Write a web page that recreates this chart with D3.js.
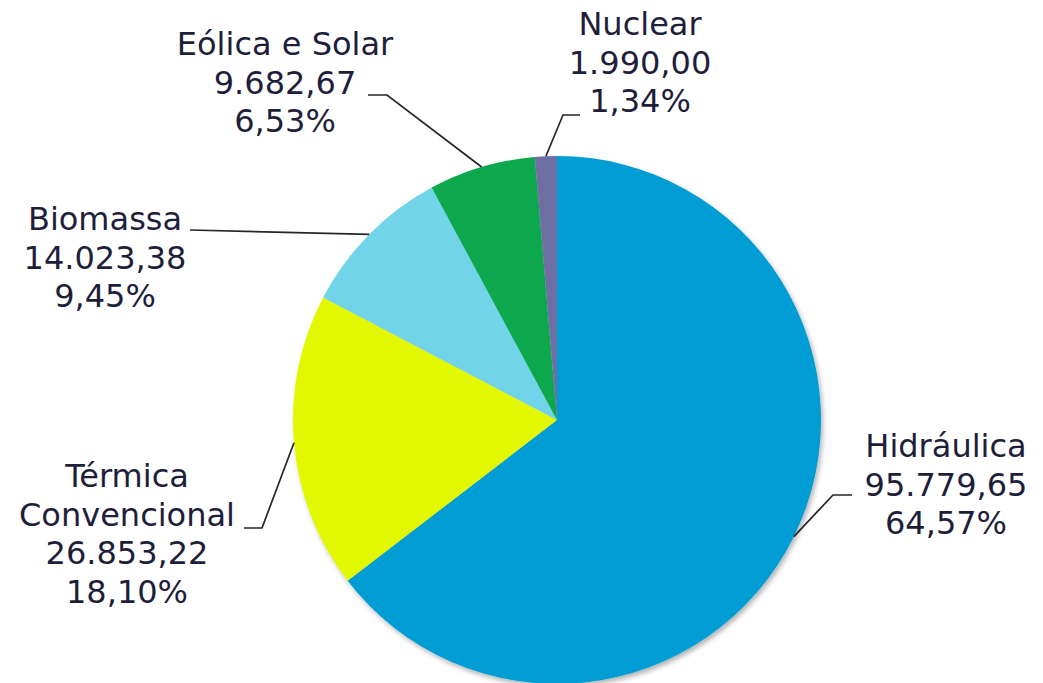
<!DOCTYPE html>
<html>
<head>
<meta charset="utf-8">
<script src="https://cdn.jsdelivr.net/npm/d3@7"></script>
<style>
  body { margin: 0; background: #fff; }
  svg { display: block; }
  text { font-family: "DejaVu Sans", Verdana, sans-serif; font-size: 32px; fill: #1e1e3a; }
</style>
</head>
<body>
<svg></svg>
<script>
// Source data (capacidade instalada, MW)
const categories = ["Hidráulica", "Térmica Convencional", "Biomassa", "Eólica e Solar", "Nuclear"];
const values = [95779.65, 26853.22, 14023.38, 9682.67, 1990.00];
const valueLabels = ["95.779,65", "26.853,22", "14.023,38", "9.682,67", "1.990,00"];
const percentLabels = ["64,57%", "18,10%", "9,45%", "6,53%", "1,34%"];
const nameLines = [["Hidráulica"], ["Térmica", "Convencional"], ["Biomassa"], ["Eólica e Solar"], ["Nuclear"]];
const colors = ["#069dd5", "#e2f803", "#72d4e8", "#07a74d", "#6e6ea4"];

// Label layout: text centre x, first baseline y, leader elbow and end
const labelLayout = [
  { x: 946, y: 457, elbow: [833, 495], end: [852, 495] },
  { x: 127, y: 487, elbow: [262, 528], end: [244, 528] },
  { x: 105, y: 230, elbow: [190, 230], end: [190, 230] },
  { x: 285, y: 55,  elbow: [387, 95],  end: [368, 95] },
  { x: 640, y: 35,  elbow: [563, 115], end: [580, 115] }
];

const width = 1043, height = 683;
const cx = 557, cy = 420, radius = 264;
const lineHeight = 38.5;

const svg = d3.select("svg")
  .attr("width", width)
  .attr("height", height);

const defs = svg.append("defs");
defs.append("filter")
  .attr("id", "shadow")
  .attr("x", "-10%").attr("y", "-10%")
  .attr("width", "120%").attr("height", "120%")
  .append("feDropShadow")
  .attr("dx", 2).attr("dy", 3)
  .attr("stdDeviation", 2.5)
  .attr("flood-color", "#000")
  .attr("flood-opacity", 0.3);

const data = categories.map((c, i) => ({ name: c, value: values[i], i: i }));

const pie = d3.pie()
  .sort(null)
  .value(d => d.value);

const arc = d3.arc()
  .innerRadius(0)
  .outerRadius(radius);

const arcs = pie(data);

const g = svg.append("g")
  .attr("transform", `translate(${cx},${cy})`);

// Slices
g.append("g")
  .attr("filter", "url(#shadow)")
  .selectAll("path")
  .data(arcs)
  .join("path")
  .attr("fill", d => colors[d.data.i])
  .attr("d", arc);

// Leader lines, starting on the rim at the slice mid-angle
const rimPoint = d => {
  const a = (d.startAngle + d.endAngle) / 2;
  return [cx + radius * Math.sin(a), cy - radius * Math.cos(a)];
};

svg.append("g")
  .selectAll("polyline")
  .data(arcs)
  .join("polyline")
  .attr("fill", "none")
  .attr("stroke", "#262626")
  .attr("stroke-width", 1.7)
  .attr("points", d => {
    const L = labelLayout[d.data.i];
    return [rimPoint(d), L.elbow, L.end].map(p => p.join(",")).join(" ");
  });

// Labels
const labels = svg.append("g")
  .selectAll("text")
  .data(arcs)
  .join("text")
  .attr("text-anchor", "middle")
  .attr("x", d => labelLayout[d.data.i].x)
  .attr("y", d => labelLayout[d.data.i].y);

labels.each(function(d) {
  const i = d.data.i;
  const lines = nameLines[i].concat([valueLabels[i], percentLabels[i]]);
  d3.select(this).selectAll("tspan")
    .data(lines)
    .join("tspan")
    .attr("x", labelLayout[i].x)
    .attr("dy", (l, k) => k === 0 ? 0 : lineHeight)
    .text(l => l);
});
</script>
</body>
</html>
